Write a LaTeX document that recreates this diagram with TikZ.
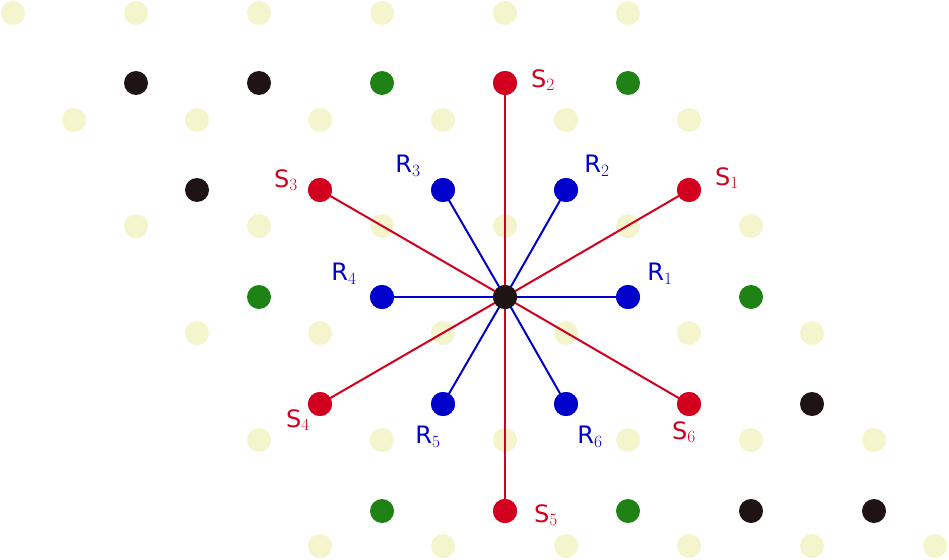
\documentclass[tikz,border=0pt]{standalone}
\usepackage{fontspec}
\setmainfont{DejaVu Sans}
\definecolor{lite}{RGB}{245,245,205}
\definecolor{rd}{RGB}{210,0,30}
\definecolor{bl}{RGB}{0,0,205}
\definecolor{gr}{RGB}{30,130,20}
\definecolor{bk}{RGB}{30,20,20}
\begin{document}
\begin{tikzpicture}[x=1pt,y=-1pt,
  dot/.style={circle,inner sep=0pt,minimum size=24pt},
  lbl/.style={font=\fontsize{24}{28}\selectfont,inner sep=0pt}]
\useasboundingbox (0,0) rectangle (949,559);
% light lattice
\foreach \y/\x in {13/13,120/74,226/136,333/197,440/259,546/320}
  \foreach \i in {0,...,5}
    \fill[lite] (\x+123*\i,\y) circle (12);
% other dots
\foreach \x/\y/\c in {136/83/bk,259/83/bk,382/83/gr,628/83/gr,197/190/bk,259/297/gr,751/297/gr,812/404/bk,382/511/gr,628/511/gr,751/511/bk,874/511/bk}
  \node[dot,fill=\c] at (\x,\y) {};
\node[dot,fill=bk] (c) at (505,297) {};
\foreach \n/\x/\y in {R1/628/297,R2/566/190,R3/443/190,R4/382/297,R5/443/404,R6/566/404}
  \node[dot,fill=bl] (\n) at (\x,\y) {};
\foreach \n/\x/\y in {S1/689/190,S2/505/83,S3/320/190,S4/320/404,S5/505/511,S6/689/404}
  \node[dot,fill=rd] (\n) at (\x,\y) {};
\foreach \n in {R1,R2,R3,R4,R5,R6} \draw[bl,line width=2pt] (c.center) -- (\n.center);
\foreach \n in {S1,S2,S3,S4,S5,S6} \draw[rd,line width=2pt] (c.center) -- (\n.center);
\node[dot,fill=bk] at (c) {};
\foreach \n in {R1,R2,R3,R4,R5,R6} \node[dot,fill=bl] at (\n) {};
\foreach \n in {S1,S2,S3,S4,S5,S6} \node[dot,fill=rd] at (\n) {};
% labels
\node[lbl,text=rd] (lS1) at (727,178) {S$_1$};
\node[lbl,text=rd] (lS2) at (543,80) {S$_2$};
\node[lbl,text=rd] (lS3) at (286,180) {S$_3$};
\node[lbl,text=rd] (lS4) at (298,420) {S$_4$};
\node[lbl,text=rd] (lS5) at (546,515) {S$_5$};
\node[lbl,text=rd] (lS6) at (684,432) {S$_6$};
\node[lbl,text=bl] (lR1) at (660,274) {R$_1$};
\node[lbl,text=bl] (lR2) at (597,166) {R$_2$};
\node[lbl,text=bl] (lR3) at (408,166) {R$_3$};
\node[lbl,text=bl] (lR4) at (344,274) {R$_4$};
\node[lbl,text=bl] (lR5) at (428,437) {R$_5$};
\node[lbl,text=bl] (lR6) at (590,437) {R$_6$};
\end{tikzpicture}
\end{document}
